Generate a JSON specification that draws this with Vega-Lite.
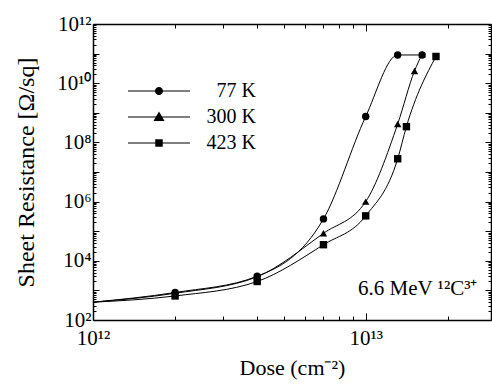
{
  "$schema": "https://vega.github.io/schema/vega-lite/v6.json",
  "autosize": {"type": "none"},
  "width": 398,
  "height": 296,
  "padding": {"left": 93, "top": 24, "right": 1, "bottom": 65},
  "background": "white",
  "config": {
    "view": {"stroke": null},
    "font": "Liberation Serif",
    "axis": {
      "grid": false,
      "domainColor": "black",
      "domainWidth": 1.5,
      "tickColor": "black",
      "tickWidth": 1,
      "labelColor": "black",
      "titleColor": "black",
      "labelFont": "Liberation Serif",
      "titleFont": "Liberation Serif",
      "labelFontSize": 21,
      "titleFontSize": 22,
      "titleFontWeight": "normal",
      "labelOverlap": false,
      "labelFlush": false,
      "zindex": 1
    }
  },
  "data": {
    "values": [
      {"T": "77 K", "dose": 1e12, "R": 400},
      {"T": "77 K", "dose": 2e12, "R": 850},
      {"T": "77 K", "dose": 4e12, "R": 3000},
      {"T": "77 K", "dose": 7e12, "R": 260000},
      {"T": "77 K", "dose": 1e13, "R": 750000000},
      {"T": "77 K", "dose": 1.31e13, "R": 90000000000},
      {"T": "77 K", "dose": 1.61e13, "R": 90000000000},
      {"T": "300 K", "dose": 1e12, "R": 400},
      {"T": "300 K", "dose": 2e12, "R": 800},
      {"T": "300 K", "dose": 4e12, "R": 2900},
      {"T": "300 K", "dose": 7e12, "R": 85000},
      {"T": "300 K", "dose": 1e13, "R": 1000000},
      {"T": "300 K", "dose": 1.31e13, "R": 420000000},
      {"T": "300 K", "dose": 1.51e13, "R": 26000000000},
      {"T": "300 K", "dose": 1.61e13, "R": 95000000000},
      {"T": "423 K", "dose": 1e12, "R": 400},
      {"T": "423 K", "dose": 2e12, "R": 650},
      {"T": "423 K", "dose": 4e12, "R": 2000},
      {"T": "423 K", "dose": 7e12, "R": 35000},
      {"T": "423 K", "dose": 1e13, "R": 330000},
      {"T": "423 K", "dose": 1.31e13, "R": 28000000},
      {"T": "423 K", "dose": 1.41e13, "R": 340000000},
      {"T": "423 K", "dose": 1.81e13, "R": 80000000000}
    ]
  },
  "layer": [
    {
      "mark": {"type": "line", "interpolate": "monotone", "color": "black", "strokeWidth": 1, "clip": true},
      "encoding": {
        "x": {
          "field": "dose", "type": "quantitative",
          "scale": {"type": "log", "domain": [1e12, 2.88e13], "nice": false},
          "axis": {
            "orient": "top", "labels": false, "title": null,
            "values": [1e12, 2e12, 3e12, 4e12, 5e12, 6e12, 7e12, 8e12, 9e12, 1e13, 2e13],
            "tickSize": {"condition": {"test": "datum.value == 1e12 || datum.value == 1e13", "value": -7}, "value": -4}
          }
        },
        "y": {
          "field": "R", "type": "quantitative",
          "scale": {"type": "log", "domain": [100, 1e12], "nice": false},
          "axis": {
            "orient": "right", "labels": false, "title": null,
            "values": [1e2,2e2,3e2,4e2,5e2,6e2,7e2,8e2,9e2,1e3,2e3,3e3,4e3,5e3,6e3,7e3,8e3,9e3,1e4,2e4,3e4,4e4,5e4,6e4,7e4,8e4,9e4,1e5,2e5,3e5,4e5,5e5,6e5,7e5,8e5,9e5,1e6,2e6,3e6,4e6,5e6,6e6,7e6,8e6,9e6,1e7,2e7,3e7,4e7,5e7,6e7,7e7,8e7,9e7,1e8,2e8,3e8,4e8,5e8,6e8,7e8,8e8,9e8,1e9,2e9,3e9,4e9,5e9,6e9,7e9,8e9,9e9,1e10,2e10,3e10,4e10,5e10,6e10,7e10,8e10,9e10,1e11,2e11,3e11,4e11,5e11,6e11,7e11,8e11,9e11,1e12],
            "tickSize": {"condition": {"test": "abs(log(datum.value)/LN10 - round(log(datum.value)/LN10)) < 0.000001", "value": -6}, "value": -3}
          }
        },
        "detail": {"field": "T"}
      }
    },
    {
      "transform": [{"filter": "datum.dose > 1e12"}],
      "mark": {"type": "point", "filled": true, "color": "black", "opacity": 1, "size": 55},
      "encoding": {
        "x": {
          "field": "dose", "type": "quantitative",
          "axis": {
            "orient": "bottom",
            "title": "Dose (cm⁻²)",
            "titlePadding": 6,
            "labelPadding": 14,
            "values": [1e12, 2e12, 3e12, 4e12, 5e12, 6e12, 7e12, 8e12, 9e12, 1e13, 2e13],
            "labelExpr": "datum.value == 1e12 ? '10¹²' : datum.value == 1e13 ? '10¹³' : ''",
            "tickSize": {"condition": {"test": "datum.value == 1e12 || datum.value == 1e13", "value": -7}, "value": -4}
          }
        },
        "y": {
          "field": "R", "type": "quantitative",
          "axis": {
            "orient": "left",
            "title": "Sheet Resistance [Ω/sq]",
            "titleFontSize": 24,
            "titlePadding": 18,
            "labelPadding": 8,
            "values": [1e2,2e2,3e2,4e2,5e2,6e2,7e2,8e2,9e2,1e3,2e3,3e3,4e3,5e3,6e3,7e3,8e3,9e3,1e4,2e4,3e4,4e4,5e4,6e4,7e4,8e4,9e4,1e5,2e5,3e5,4e5,5e5,6e5,7e5,8e5,9e5,1e6,2e6,3e6,4e6,5e6,6e6,7e6,8e6,9e6,1e7,2e7,3e7,4e7,5e7,6e7,7e7,8e7,9e7,1e8,2e8,3e8,4e8,5e8,6e8,7e8,8e8,9e8,1e9,2e9,3e9,4e9,5e9,6e9,7e9,8e9,9e9,1e10,2e10,3e10,4e10,5e10,6e10,7e10,8e10,9e10,1e11,2e11,3e11,4e11,5e11,6e11,7e11,8e11,9e11,1e12],
            "labelExpr": "datum.value == 1e2 ? '10²' : datum.value == 1e4 ? '10⁴' : datum.value == 1e6 ? '10⁶' : datum.value == 1e8 ? '10⁸' : datum.value == 1e10 ? '10¹⁰' : datum.value == 1e12 ? '10¹²' : ''",
            "tickSize": {"condition": {"test": "abs(log(datum.value)/LN10 - round(log(datum.value)/LN10)) < 0.000001", "value": -6}, "value": -3}
          }
        },
        "shape": {
          "field": "T", "type": "nominal",
          "scale": {"domain": ["77 K", "300 K", "423 K"], "range": ["circle", "triangle-up", "square"]},
          "legend": null
        }
      }
    },
    {
      "transform": [{"filter": "false"}],
      "mark": {"type": "point", "filled": true, "color": "black", "opacity": 1},
      "encoding": {
        "x": {"field": "dose", "type": "quantitative", "axis": null},
        "y": {"field": "R", "type": "quantitative", "axis": null},
        "shape": {
          "field": "T", "type": "nominal",
          "scale": {
            "domain": ["77 K", "300 K", "423 K"],
            "range": [
              "M-2.07,-0.035L2.07,-0.035L2.07,0.035L-2.07,0.035ZM0.27,0A0.27,0.27 0 1,1 -0.27,0A0.27,0.27 0 1,1 0.27,0Z",
              "M-2.07,-0.035L2.07,-0.035L2.07,0.035L-2.07,0.035ZM0,-0.36L0.37,0.26L-0.37,0.26Z",
              "M-2.07,-0.035L2.07,-0.035L2.07,0.035L-2.07,0.035ZM-0.25,-0.25L0.25,-0.25L0.25,0.25L-0.25,0.25Z"
            ]
          },
          "legend": {
            "orient": "none",
            "legendX": 50,
            "legendY": 51,
            "title": null,
            "symbolSize": 900,
            "symbolFillColor": "black",
            "symbolOpacity": 1,
            "labelFont": "Liberation Serif",
            "labelFontSize": 20,
            "labelColor": "black",
            "labelOffset": 81,
            "labelAlign": "right",
            "rowPadding": -4
          }
        }
      }
    },
    {
      "data": {"values": [{"note": "6.6 MeV ¹²C³⁺"}]},
      "mark": {"type": "text", "align": "right", "baseline": "alphabetic", "fontSize": 21, "font": "Liberation Serif", "color": "black"},
      "encoding": {
        "x": {"datum": 2.57e13, "type": "quantitative", "axis": null},
        "y": {"datum": 700, "type": "quantitative", "axis": null},
        "text": {"field": "note"}
      }
    }
  ],
  "resolve": {"scale": {"shape": "independent"}, "axis": {"x": "independent", "y": "independent"}}
}
